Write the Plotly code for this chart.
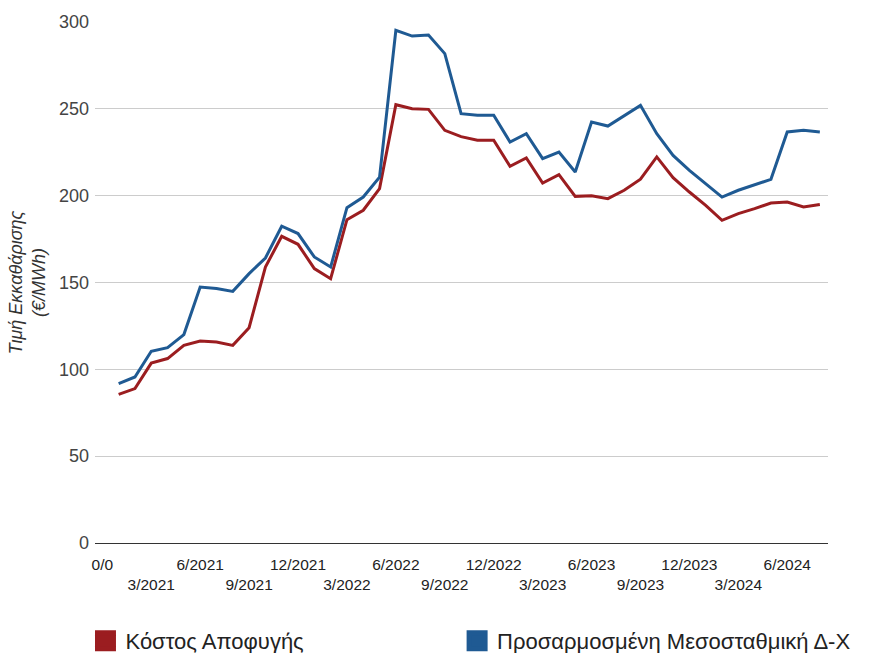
import plotly.graph_objects as go

# Monthly positions: 0 = "0/0" label slot, 1 = 1/2021 ... 44 = 8/2024
positions = list(range(1, 45))

avoided_cost = [85.6, 88.9, 103.6, 106.2, 113.8, 116.3, 115.7, 113.8, 124.0, 158.9,
                176.6, 172.0, 158.0, 152.2, 186.2, 191.6, 204.1, 252.4, 250.1, 249.7,
                237.6, 234.0, 231.9, 231.9, 216.9, 221.7, 207.3, 212.1, 199.6, 199.9,
                198.3, 203.1, 209.5, 222.3, 210.4, 202.1, 194.4, 185.8, 189.7, 192.5,
                195.8, 196.3, 193.5, 194.9]

adjusted_avg = [91.8, 95.6, 110.4, 112.5, 120.0, 147.4, 146.5, 144.9, 155.1, 164.1,
                182.4, 178.2, 164.7, 158.9, 193.1, 199.2, 210.7, 295.2, 291.9, 292.5,
                281.8, 247.2, 246.3, 246.3, 230.9, 235.7, 221.3, 225.1, 213.6, 242.4,
                240.1, 246.3, 252.0, 235.7, 223.2, 214.6, 206.9, 199.2, 203.1, 206.4,
                209.4, 236.7, 237.6, 236.7]

tick_positions = [0, 3, 6, 9, 12, 15, 18, 21, 24, 27, 30, 33, 36, 39, 42]
tick_labels = ["0/0", "3/2021", "6/2021", "9/2021", "12/2021", "3/2022", "6/2022",
               "9/2022", "12/2022", "3/2023", "6/2023", "9/2023", "12/2023",
               "3/2024", "6/2024"]

series_names = ["Κόστος Αποφυγής", "Προσαρμοσμένη Μεσοσταθμική Δ-Χ"]
colors = ["#9b1d20", "#1f5a93"]
legend_ids = ["legend", "legend2"]

staggered = [t if i % 2 == 0 else "<br>" + t for i, t in enumerate(tick_labels)]

fig = go.Figure()
for name, vals, col, lg in zip(series_names, [avoided_cost, adjusted_avg], colors, legend_ids):
    fig.add_trace(go.Scatter(x=positions, y=vals, mode="lines", name=name,
                             line=dict(color=col, width=3), showlegend=False))
    fig.add_trace(go.Scatter(x=[None], y=[None], mode="markers", name=name,
                             marker=dict(symbol="square", size=16, color=col,
                                         line=dict(color=col, width=5)),
                             showlegend=True, legend=lg))

legend_common = dict(xanchor="left", y=-0.188, yanchor="middle",
                     font=dict(size=22, color="#222"), bgcolor="rgba(0,0,0,0)",
                     borderwidth=0, itemsizing="trace")

fig.update_layout(
    width=872, height=653,
    margin=dict(l=95, r=44, t=22, b=110, autoexpand=False),
    paper_bgcolor="white", plot_bgcolor="white",
    font=dict(family="Arial, Liberation Sans, sans-serif", color="#222"),
    legend=dict(x=-0.013, **legend_common),
    legend2=dict(x=0.494, **legend_common),
    xaxis=dict(range=[-0.45, 44.5], tickmode="array", tickvals=tick_positions,
               ticktext=staggered, showgrid=False, zeroline=False, showline=False,
               tickfont=dict(size=15.5, color="#222"), ticks="", tickangle=0,
               ticklabelstandoff=10),
    yaxis=dict(range=[0, 300], tickvals=[0, 50, 100, 150, 200, 250, 300],
               showgrid=True, gridcolor="#cccccc", gridwidth=1,
               zeroline=True, zerolinecolor="#333333", zerolinewidth=1,
               showline=False, tickfont=dict(size=18, color="#444"), ticks="",
               ticklabelstandoff=5,
               title=dict(text="<i>Τιμή Εκκαθάρισης<br>(€/MWh)</i>",
                          font=dict(size=18, color="#333"), standoff=8)),
)

fig.write_html("out.html", config={"displayModeBar": False},
               post_script="document.body.style.margin='0';")
